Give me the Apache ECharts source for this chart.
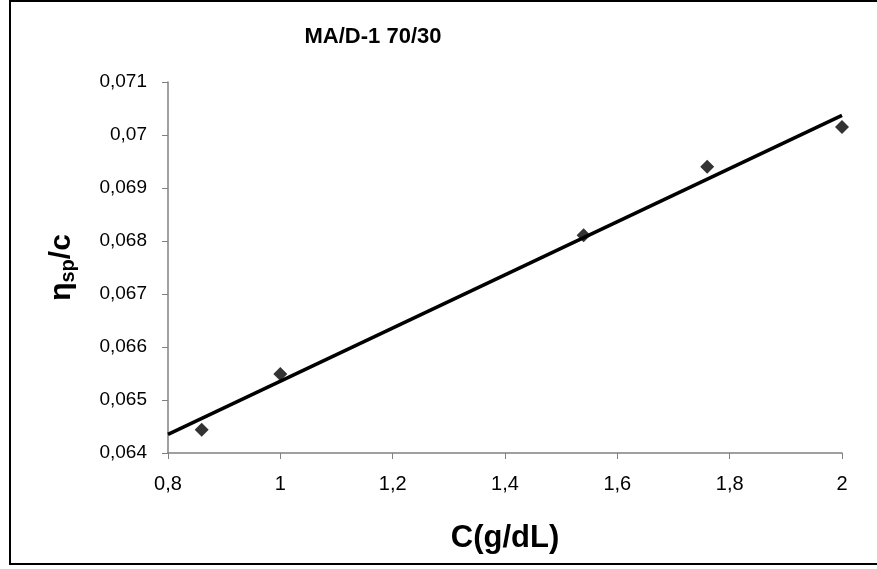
<!DOCTYPE html>
<html><head><meta charset="utf-8">
<script src="https://cdn.jsdelivr.net/npm/echarts@6/dist/echarts.min.js"></script>
<style>html,body{margin:0;padding:0;background:#fff}#c{width:877px;height:569px}</style>
</head><body><div id="c"></div>
<script>
const concentrations = [0.86, 1.0, 1.54, 1.76, 2.0];
const viscosityValues = [0.06444, 0.06549, 0.06811, 0.06940, 0.07015];
const trendX = [0.8, 2.0];
const trendY = [0.06435, 0.07037];
const xTicks = {min: 0.8, max: 2.0, step: 0.2};
const yTicks = {min: 0.064, max: 0.071, step: 0.001};
const chartTitle = 'MA/D-1 70/30';
const xName = 'C(g/dL)';

const fmt = (v, d) => String(parseFloat(v.toFixed(d))).replace('.', ',');
const font = 'Liberation Sans, Arial, sans-serif';
const chart = echarts.init(document.getElementById('c'));
chart.setOption({
  animation: false,
  backgroundColor: '#fff',
  graphic: [
    {type: 'rect', shape: {x: 10, y: 1, width: 880, height: 563},
      style: {fill: 'none', stroke: '#000', lineWidth: 2}, silent: true},
    {type: 'text', x: 373, y: 37, silent: true,
      style: {text: chartTitle, fill: '#000', font: 'bold 22px ' + font, align: 'center', verticalAlign: 'middle'}}
  ],
  grid: {left: 168, right: 35, top: 82, bottom: 116},
  xAxis: {type: 'value', min: xTicks.min, max: xTicks.max, interval: xTicks.step,
    name: xName, nameLocation: 'middle', nameGap: 70,
    nameTextStyle: {fontFamily: font, fontWeight: 'bold', fontSize: 31, color: '#000'},
    axisLine: {lineStyle: {color: '#808080', width: 1.5}},
    axisTick: {inside: false, length: 6, lineStyle: {color: '#808080'}},
    axisLabel: {fontFamily: font, fontSize: 20, color: '#000', margin: 21, formatter: v => fmt(v, 1)},
    splitLine: {show: false}},
  yAxis: {type: 'value', min: yTicks.min, max: yTicks.max, interval: yTicks.step,
    name: '{a|η}{b|sp}{a|/c}', nameLocation: 'middle', nameGap: 90, nameRotate: 90,
    nameTextStyle: {rich: {
      a: {fontFamily: font, fontWeight: 'bold', fontSize: 30, color: '#000'},
      b: {fontFamily: font, fontWeight: 'bold', fontSize: 20, color: '#000', verticalAlign: 'bottom', padding: [12, 0, 0, 0]}}},
    axisLine: {show: true, lineStyle: {color: '#808080', width: 1.5}},
    axisTick: {show: true, inside: false, length: 6, lineStyle: {color: '#808080'}},
    axisLabel: {fontFamily: font, fontSize: 19, color: '#000', margin: 21, formatter: v => fmt(v, 3)},
    splitLine: {show: false}},
  series: [
    {type: 'line', data: trendX.map((x, i) => [x, trendY[i]]), symbol: 'none',
      lineStyle: {color: '#000', width: 3.5}, silent: true, z: 2},
    {type: 'scatter', data: concentrations.map((x, i) => [x, viscosityValues[i]]),
      symbol: 'diamond', symbolSize: 14, itemStyle: {color: '#000'}, z: 3}
  ]
});
</script></body></html>
